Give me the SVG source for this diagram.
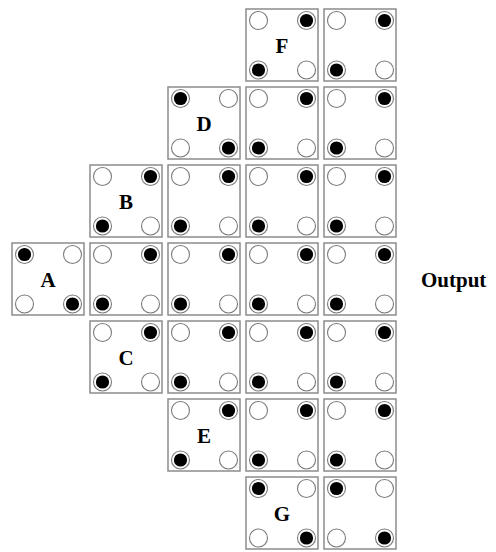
<svg xmlns="http://www.w3.org/2000/svg" xmlns:xlink="http://www.w3.org/1999/xlink" width="496" height="552" viewBox="0 0 496 552">
<style>
.box{fill:#fff;stroke:#8c8c8c;stroke-width:1.5}
.ring{fill:#fff;stroke:#7a7a7a;stroke-width:1.1}
.dot{fill:#000}
.lbl{font-family:"Liberation Serif",serif;font-weight:bold;font-size:21px;text-anchor:middle;fill:#000}
.out{font-family:"Liberation Serif",serif;font-weight:bold;font-size:21px;fill:#000}
</style>
<defs>
<g id="h"><circle class="ring" r="9"/></g>
<g id="f"><circle class="ring" r="9"/><circle class="dot" r="6.6"/></g>
<!-- box with TR+BL filled -->
<g id="tb">
<rect class="box" x="0" y="0" width="72" height="72"/>
<use xlink:href="#h" x="12.5" y="11.5"/><use xlink:href="#f" x="60.5" y="11.5"/>
<use xlink:href="#f" x="12.5" y="61"/><use xlink:href="#h" x="60.5" y="61"/>
</g>
<!-- box with TL+BR filled -->
<g id="lr">
<rect class="box" x="0" y="0" width="72" height="72"/>
<use xlink:href="#f" x="12.5" y="11.5"/><use xlink:href="#h" x="60.5" y="11.5"/>
<use xlink:href="#h" x="12.5" y="61"/><use xlink:href="#f" x="60.5" y="61"/>
</g>
</defs>
<g id="F"><use xlink:href="#tb" x="246" y="9"/><text class="lbl" x="282" y="53">F</text></g>
<g id="r0c4"><use xlink:href="#tb" x="324" y="9"/></g>
<g id="D"><use xlink:href="#lr" x="168" y="87"/><text class="lbl" x="204" y="131">D</text></g>
<g id="r1c3"><use xlink:href="#tb" x="246" y="87"/></g>
<g id="r1c4"><use xlink:href="#tb" x="324" y="87"/></g>
<g id="B"><use xlink:href="#tb" x="90" y="165"/><text class="lbl" x="126" y="209">B</text></g>
<g id="r2c2"><use xlink:href="#tb" x="168" y="165"/></g>
<g id="r2c3"><use xlink:href="#tb" x="246" y="165"/></g>
<g id="r2c4"><use xlink:href="#tb" x="324" y="165"/></g>
<g id="A"><use xlink:href="#lr" x="12" y="243"/><text class="lbl" x="48" y="287">A</text></g>
<g id="r3c1"><use xlink:href="#tb" x="90" y="243"/></g>
<g id="r3c2"><use xlink:href="#tb" x="168" y="243"/></g>
<g id="r3c3"><use xlink:href="#tb" x="246" y="243"/></g>
<g id="r3c4"><use xlink:href="#tb" x="324" y="243"/></g>
<g id="C"><use xlink:href="#tb" x="90" y="321"/><text class="lbl" x="126" y="365">C</text></g>
<g id="r4c2"><use xlink:href="#tb" x="168" y="321"/></g>
<g id="r4c3"><use xlink:href="#tb" x="246" y="321"/></g>
<g id="r4c4"><use xlink:href="#tb" x="324" y="321"/></g>
<g id="E"><use xlink:href="#tb" x="168" y="399"/><text class="lbl" x="204" y="443">E</text></g>
<g id="r5c3"><use xlink:href="#tb" x="246" y="399"/></g>
<g id="r5c4"><use xlink:href="#tb" x="324" y="399"/></g>
<g id="G"><use xlink:href="#lr" x="246" y="477"/><text class="lbl" x="282" y="521">G</text></g>
<g id="r6c4"><use xlink:href="#lr" x="324" y="477"/></g>
<g id="connectors"></g>
<g id="Output"><text class="out" x="421" y="287">Output</text></g>
</svg>
